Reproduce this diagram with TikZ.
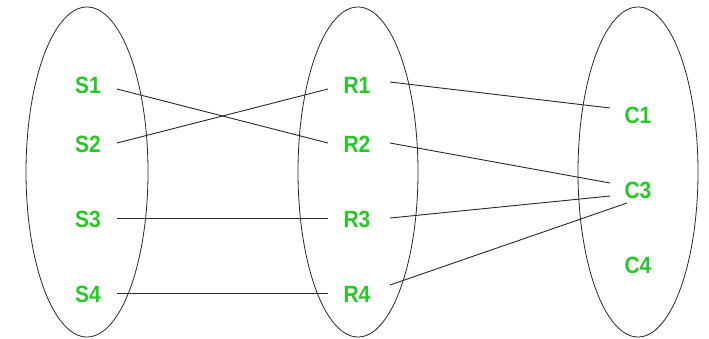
\documentclass[tikz,border=0pt]{standalone}
\usepackage{fontspec}
\setmainfont{Liberation Sans}
\definecolor{lblgreen}{RGB}{38,200,38}
\definecolor{edgegray}{RGB}{40,40,40}
\begin{document}
\begin{tikzpicture}[x=1pt,y=-1pt,
  lbl/.style={inner sep=0pt,minimum width=58pt,minimum height=16pt,
    text=lblgreen,font=\fontsize{21}{21}\selectfont\bfseries},
  set/.style={draw=edgegray,line width=0.8pt},
  link/.style={draw=edgegray,line width=0.9pt}]
\useasboundingbox (0,0) rectangle (709,338);
% sets
\draw[set] (87,172) ellipse [x radius=61, y radius=165];
\draw[set] (358,172) ellipse [x radius=60, y radius=165];
\draw[set] (638,172) ellipse [x radius=60, y radius=165];
% labels
\node[lbl] (S1) at (88,85) {\scalebox{1}[1.12]{S1}};
\node[lbl] (S2) at (88,144) {\scalebox{1}[1.12]{S2}};
\node[lbl] (S3) at (88,219) {\scalebox{1}[1.12]{S3}};
\node[lbl] (S4) at (88,294) {\scalebox{1}[1.12]{S4}};
\node[lbl] (R1) at (357,85) {\scalebox{1}[1.12]{R1}};
\node[lbl] (R2) at (357,144) {\scalebox{1}[1.12]{R2}};
\node[lbl] (R3) at (357,219) {\scalebox{1}[1.12]{R3}};
\node[lbl] (R4) at (357,294) {\scalebox{1}[1.12]{R4}};
\node[lbl] (C1) at (638,115) {\scalebox{1}[1.12]{C1}};
\node[lbl] (C3) at (638,190) {\scalebox{1}[1.12]{C3}};
\node[lbl] (C4) at (638,265) {\scalebox{1}[1.12]{C4}};
% links
\draw[link] ([shift={(29,4)}]S1.center) -- ([shift={(-29,-1)}]R2.center);
\draw[link] ([shift={(29,-1)}]S2.center) -- ([shift={(-29,4)}]R1.center);
\draw[link] ([shift={(29,-1)}]S3.center) -- ([shift={(-29,-1)}]R3.center);
\draw[link] ([shift={(29,-1)}]S4.center) -- ([shift={(-29,-1)}]R4.center);
\draw[link] ([shift={(33,-3)}]R1.center) -- ([shift={(-28,-7)}]C1.center);
\draw[link] ([shift={(33,-1)}]R2.center) -- ([shift={(-28,-7)}]C3.center);
\draw[link] ([shift={(33,-1)}]R3.center) -- ([shift={(-28,6)}]C3.center);
\draw[link] ([shift={(33,-9)}]R4.center) -- ([shift={(-11,13)}]C3.center);
\end{tikzpicture}
\end{document}
